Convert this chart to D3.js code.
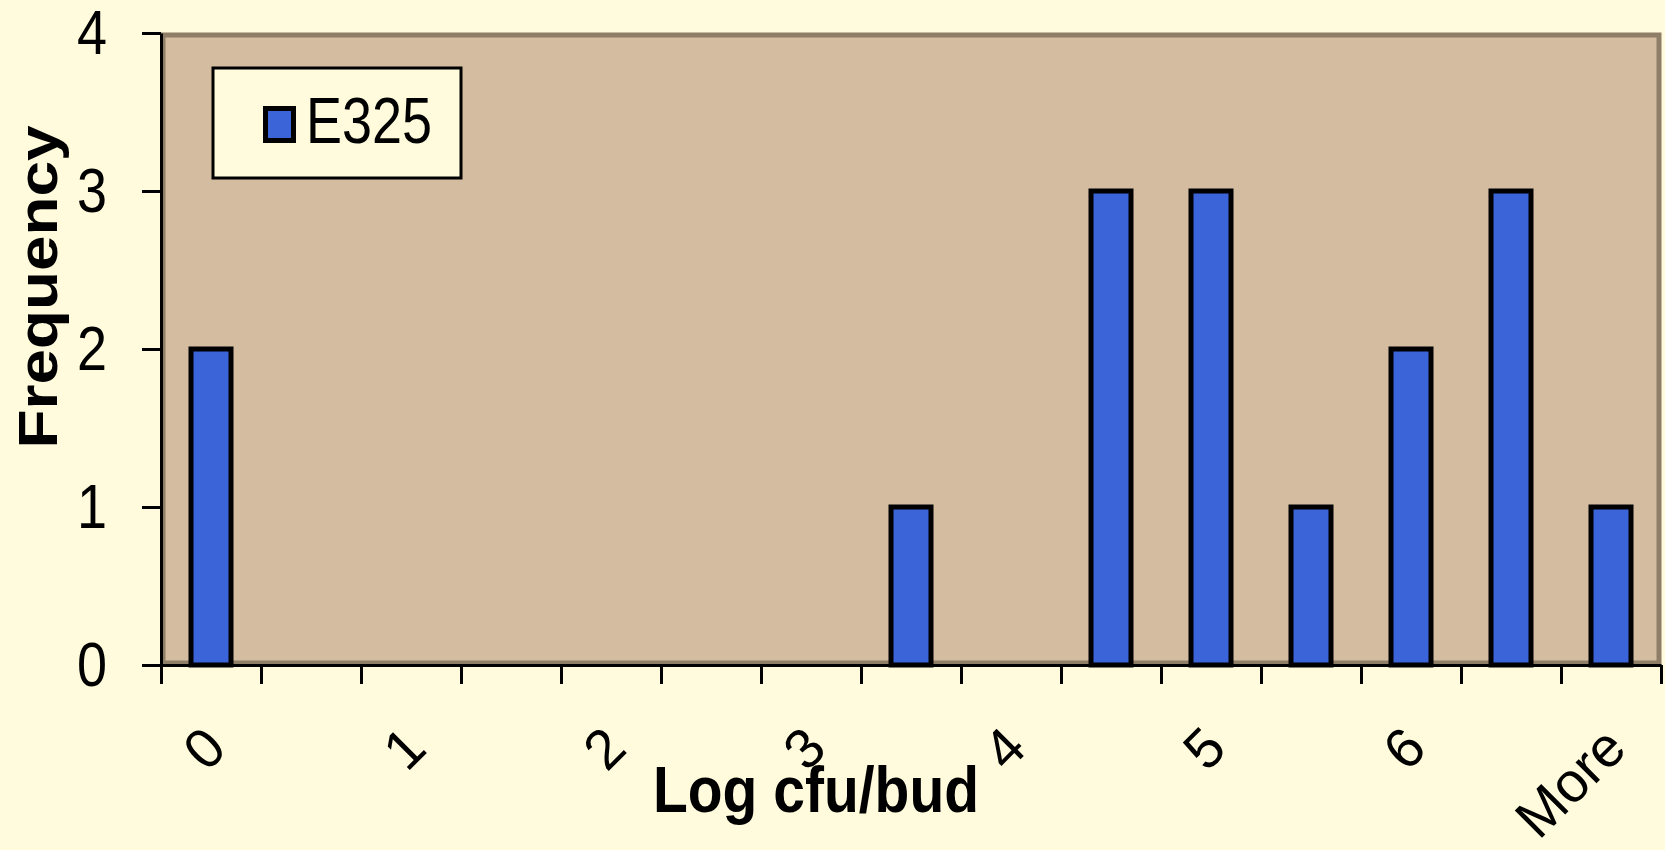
<!DOCTYPE html>
<html>
<head>
<meta charset="utf-8">
<script src="https://cdn.jsdelivr.net/npm/d3@7"></script>
<style>
  body { margin: 0; background: #fffbdc; }
  svg { display: block; font-family: "Liberation Sans", Arial, sans-serif; }
</style>
</head>
<body>
<div class="chart"></div>
<script>
document.addEventListener('DOMContentLoaded', function(){

    // Data (histogram bins, labels only shown on every second bin)
    const categories = ['0','0.5','1','1.5','2','2.5','3','3.5','4','4.5','5','5.5','6','6.5','More']
    const frequency = [2, 0, 0, 0, 0, 0, 0, 1, 0, 3, 3, 1, 2, 3, 1]
    const yTicks = [0, 1, 2, 3, 4]
    const seriesName = 'E325'
    const labelEvery = 2

    // Size of plot
    const w = 1665
    const h = 850
    const margin = {"top": 33, "right": 4, "bottom": 185, "left": 161}
    const innerWidth = w - margin.left - margin.right
    const innerHeight = h - margin.top - margin.bottom

    const bg = '#fffbdc'
    const plotFill = '#d4bca0'
    const plotEdge = '#8f7e67'
    const barFill = '#3b64d9'

    const bins = categories.map((c, i) => ({cat: c, value: frequency[i]}))

    const svg = d3.select(".chart")
                    .append("svg")
                    .attr("width", w)
                    .attr("height", h)

    svg.append("rect").attr("width", w).attr("height", h).attr("fill", bg)

    // Scales
    const xScale = d3.scaleBand()
        .domain(categories)
        .range([margin.left, margin.left + innerWidth])
        .paddingInner(0.6)
        .paddingOuter(0.3)

    // boundaries between bins, for the tick marks
    const xEdge = d3.scaleLinear()
        .domain([0, categories.length])
        .range([margin.left, margin.left + innerWidth])

    const yScale = d3.scaleLinear()
        .domain([0, 4])
        .range([margin.top + innerHeight, margin.top])

    // plot area
    svg.append("rect")
        .attr("x", margin.left + 2)
        .attr("y", margin.top + 2)
        .attr("width", innerWidth - 4)
        .attr("height", innerHeight - 4)
        .attr("fill", plotFill)
        .attr("stroke", plotEdge)
        .attr("stroke-width", 5)

    // bars
    svg.append("g")
        .selectAll("rect")
        .data(bins.filter(d => d.value > 0))
        .join("rect")
        .attr("x", d => xScale(d.cat))
        .attr("y", d => yScale(d.value))
        .attr("width", xScale.bandwidth())
        .attr("height", d => yScale(0) - yScale(d.value))
        .attr("fill", barFill)
        .attr("stroke", "#000")
        .attr("stroke-width", 5)

    // axes
    const leftAxis = svg.append("g")
        .attr("transform", `translate(${margin.left}, 0)`)
        .call(d3.axisLeft(yScale).tickValues(yTicks).tickFormat(d3.format("d"))
            .tickSize(19).tickSizeOuter(0).tickPadding(35))
    leftAxis.selectAll("path, line").attr("stroke", "#000").attr("stroke-width", 3)
    leftAxis.selectAll("text")
        .attr("fill", "#000")
        .attr("font-size", 54)
        .attr("font-family", '"Liberation Sans", Arial, sans-serif')
        .attr("transform", "scale(1,1.18)")

    const bottomAxis = svg.append("g")
        .attr("transform", `translate(0, ${margin.top + innerHeight})`)
        .call(d3.axisBottom(xEdge).tickValues(d3.range(categories.length + 1))
            .tickFormat("").tickSize(19).tickSizeOuter(0))
    bottomAxis.selectAll("path, line").attr("stroke", "#000").attr("stroke-width", 3)

    // category labels, rotated
    svg.append("g")
        .selectAll("text")
        .data(categories.filter((c, i) => i % labelEvery === 0))
        .join("text")
        .attr("transform", d => `translate(${xScale(d) + xScale.bandwidth() / 2 + 4}, 737) rotate(-45)`)
        .attr("text-anchor", "end")
        .attr("dy", "0.35em")
        .attr("font-size", 56)
        .text(d => d)

    // axis titles
    svg.append("text")
        .attr("transform", "translate(816, 812) scale(1,1.14)")
        .attr("text-anchor", "middle")
        .attr("font-size", 57)
        .attr("font-weight", "bold")
        .text("Log cfu/bud")

    svg.append("text")
        .attr("transform", "translate(57, 287) rotate(-90) scale(1.14,1)")
        .attr("text-anchor", "middle")
        .attr("font-size", 56)
        .attr("font-weight", "bold")
        .text("Frequency")

    // legend
    const legend = svg.append("g")
    legend.append("rect")
        .attr("x", 213).attr("y", 68)
        .attr("width", 248).attr("height", 110)
        .attr("fill", bg)
        .attr("stroke", "#000")
        .attr("stroke-width", 3)
    legend.append("rect")
        .attr("x", 265.5).attr("y", 108.5)
        .attr("width", 28).attr("height", 32)
        .attr("fill", barFill)
        .attr("stroke", "#000")
        .attr("stroke-width", 5)
    legend.append("text")
        .attr("transform", "translate(306, 143) scale(1,1.2)")
        .attr("font-size", 54)
        .text(seriesName)

})
</script>
</body>
</html>
